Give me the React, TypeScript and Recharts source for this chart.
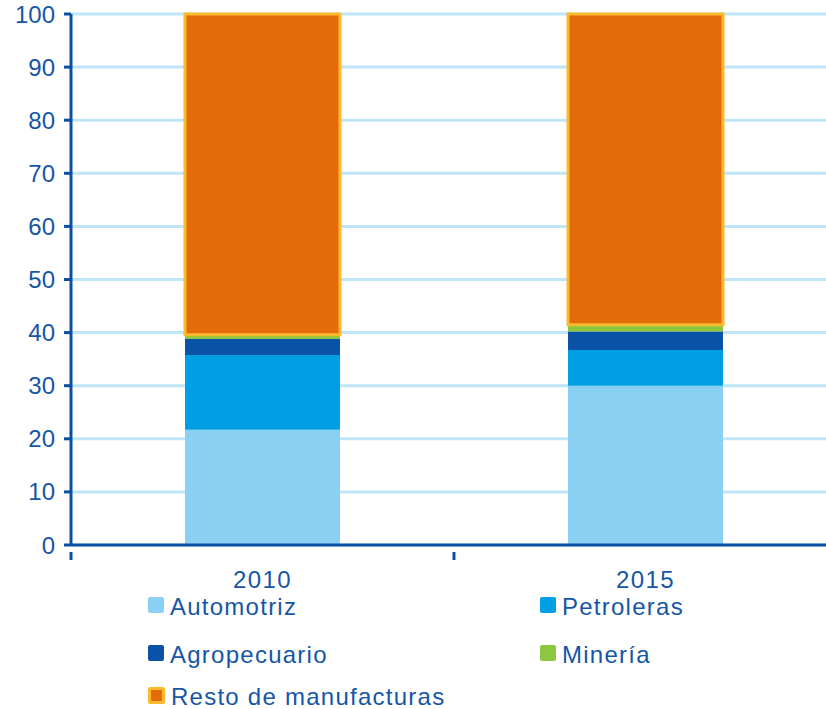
import React from "react";
import {
  BarChart,
  Bar,
  XAxis,
  YAxis,
  CartesianGrid,
  Legend,
} from "recharts";

const years = ["2010", "2015"];
const automotriz = [21.7, 30.0];
const petroleras = [14.1, 6.7];
const agropecuario = [3.0, 3.5];
const mineria = [0.8, 1.3];
const resto = [60.4, 58.5];
const yTicks = [0, 10, 20, 30, 40, 50, 60, 70, 80, 90, 100];

const series = [
  { key: "automotriz", name: "Automotriz", color: "#8ad0f2", values: automotriz },
  { key: "petroleras", name: "Petroleras", color: "#009fe3", values: petroleras },
  { key: "agropecuario", name: "Agropecuario", color: "#0a52a5", values: agropecuario },
  { key: "mineria", name: "Minería", color: "#8dc63f", values: mineria },
  { key: "resto", name: "Resto de manufacturas", color: "#e36c0a", values: resto },
];

const data = years.map((year, i) => {
  const row: Record<string, string | number> = { year };
  series.forEach((s) => {
    row[s.key] = s.values[i];
  });
  return row;
});

// the plot runs a bit past the right edge of the picture
const VIEW_W = 826;
const WIDTH = 837;
const HEIGHT = 709;
const Y_AXIS_W = 71;
const AXIS_COLOR = "#0b4fa0";
const TEXT_COLOR = "#1656a6";
const FONT = "'Liberation Sans', Arial, sans-serif";
const halfBand = (WIDTH - Y_AXIS_W) / years.length / 2;

const XTick = (props: any) => {
  const { x, y, payload, index } = props;
  return (
    <g>
      {index === 0 && (
        <line x1={x - halfBand} x2={x - halfBand} y1={y - 1} y2={y + 7} stroke={AXIS_COLOR} strokeWidth={3} />
      )}
      <line x1={x + halfBand} x2={x + halfBand} y1={y - 1} y2={y + 7} stroke={AXIS_COLOR} strokeWidth={3} />
      <text
        x={x}
        y={y + 35}
        textAnchor="middle"
        fill={TEXT_COLOR}
        fontSize={24}
        letterSpacing={1.4}
        fontFamily={FONT}
      >
        {payload.value}
      </text>
    </g>
  );
};

const LegendBox = () => {
  const cols = [148, 540];
  const rows = [22, 70, 112];
  return (
    <div style={{ position: "relative", height: 124, width: VIEW_W, fontFamily: FONT }}>
      {series.map((s, i) => {
        const left = cols[i % 2];
        const top = rows[Math.floor(i / 2)];
        const isResto = s.key === "resto";
        return (
          <div
            key={s.key}
            style={{
              position: "absolute",
              left,
              top: top - 12,
              display: "flex",
              alignItems: "center",
              height: 24,
              lineHeight: "24px",
            }}
          >
            <span
              style={{
                display: "inline-block",
                width: isResto ? 11 : 16,
                height: isResto ? 11 : 16,
                background: s.color,
                borderRadius: 2,
                border: isResto ? "3px solid #fbb92e" : "none",
                marginRight: 6,
                marginTop: -4,
              }}
            />
            <span style={{ color: TEXT_COLOR, fontSize: 24, letterSpacing: 1.25 }}>{s.name}</span>
          </div>
        );
      })}
    </div>
  );
};

export default function App() {
  return (
    <div
      style={{
        position: "absolute",
        left: 0,
        top: 0,
        width: VIEW_W,
        height: HEIGHT,
        overflow: "hidden",
        background: "#fff",
      }}
    >
      <BarChart
        width={WIDTH}
        height={HEIGHT}
        data={data}
        margin={{ top: 14, right: 0, left: 0, bottom: 0 }}
        barSize={155}
      >
        <CartesianGrid vertical={false} stroke="#bfe6f8" strokeWidth={3} />
        <XAxis
          dataKey="year"
          height={40}
          axisLine={{ stroke: AXIS_COLOR, strokeWidth: 3 }}
          tickLine={false}
          tick={<XTick />}
          interval={0}
        />
        <YAxis
          width={Y_AXIS_W}
          domain={[0, 100]}
          ticks={yTicks}
          axisLine={{ stroke: AXIS_COLOR, strokeWidth: 3 }}
          tickLine={{ stroke: AXIS_COLOR, strokeWidth: 3 }}
          tickSize={7}
          tick={{ fill: TEXT_COLOR, fontSize: 24, fontFamily: FONT }}
          tickMargin={9}
          interval={0}
        />
        {series.map((s) => (
          <Bar
            key={s.key}
            dataKey={s.key}
            name={s.name}
            stackId="a"
            fill={s.color}
            stroke={s.key === "resto" ? "#fbb92e" : "none"}
            strokeWidth={s.key === "resto" ? 3 : 0}
            isAnimationActive={false}
          />
        ))}
        <Legend verticalAlign="bottom" content={<LegendBox />} wrapperStyle={{ left: 0, width: VIEW_W }} />
      </BarChart>
    </div>
  );
}
